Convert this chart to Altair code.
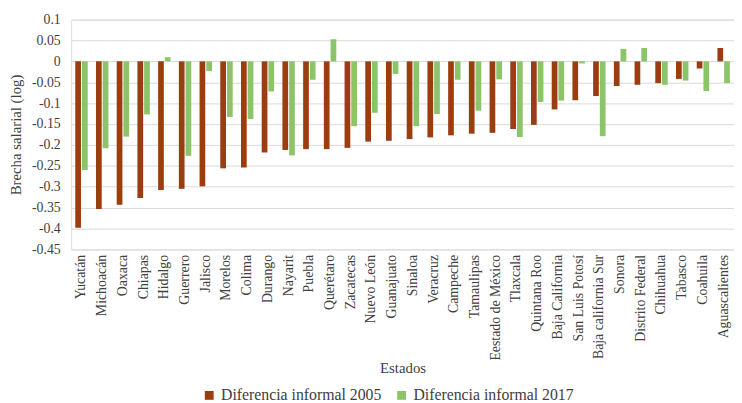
import altair as alt
import pandas as pd

estados = ["Yucatán", "Michoacán", "Oaxaca", "Chiapas", "Hidalgo", "Guerrero", "Jalisco",
           "Morelos", "Colima", "Durango", "Nayarit", "Puebla", "Querétaro", "Zacatecas",
           "Nuevo León", "Guanajuato", "Sinaloa", "Veracruz", "Campeche", "Tamaulipas",
           "Eestado de México", "Tlaxcala", "Quintana Roo", "Baja California",
           "San Luis Potosí", "Baja california Sur", "Sonora", "Distrito Federal",
           "Chihuahua", "Tabasco", "Coahuila", "Aguascalientes"]

dif_2005 = [-0.398, -0.353, -0.343, -0.327, -0.308, -0.305, -0.299, -0.256, -0.254, -0.218,
            -0.212, -0.210, -0.210, -0.207, -0.192, -0.190, -0.186, -0.182, -0.177, -0.173,
            -0.171, -0.162, -0.152, -0.115, -0.093, -0.083, -0.059, -0.056, -0.052, -0.042,
            -0.017, 0.032]

dif_2017 = [-0.260, -0.208, -0.180, -0.127, 0.010, -0.226, -0.023, -0.133, -0.138, -0.072,
            -0.225, -0.044, 0.053, -0.155, -0.123, -0.030, -0.155, -0.126, -0.044, -0.118,
            -0.043, -0.181, -0.097, -0.094, -0.005, -0.179, 0.030, 0.032, -0.056, -0.046,
            -0.071, -0.052]

series = ["Diferencia informal 2005", "Diferencia informal 2017"]
colors = ["#9C3D10", "#8CC46A"]
y_ticks = [0.1, 0.05, 0, -0.05, -0.1, -0.15, -0.2, -0.25, -0.3, -0.35, -0.4, -0.45]

rows = []
for e, a, b in zip(estados, dif_2005, dif_2017):
    rows.append({"Estado": e, "Serie": series[0], "Valor": a})
    rows.append({"Estado": e, "Serie": series[1], "Valor": b})
df = pd.DataFrame(rows)

FONT = "Liberation Serif"

chart = alt.Chart(df).mark_bar(stroke=None).encode(
    x=alt.X("Estado:N", sort=estados,
            scale=alt.Scale(paddingInner=0.4, paddingOuter=0.2),
            axis=alt.Axis(title="Estados", labelAngle=-90, labelAlign="right",
                          labelBaseline="middle", labelPadding=5, ticks=False,
                          domain=False, grid=False, labelFont=FONT, labelFontSize=14,
                          labelColor="#404040", titleFont=FONT, titleFontSize=15,
                          titleFontWeight="normal", titleColor="#404040",
                          titlePadding=0)),
    xOffset=alt.XOffset("Serie:N", sort=series,
                        scale=alt.Scale(paddingInner=0.15)),
    y=alt.Y("Valor:Q",
            scale=alt.Scale(domain=[-0.45, 0.1], nice=False, zero=False),
            axis=alt.Axis(title="Brecha salarial (log)", values=y_ticks,
                          labelExpr="'' + datum.value", ticks=False, domain=False,
                          grid=True, gridColor="#D9D9D9", gridWidth=1,
                          labelFont=FONT, labelFontSize=14, labelColor="#404040",
                          labelPadding=11,
                          titleFont=FONT, titleFontSize=15, titleFontWeight="normal",
                          titleColor="#404040", titlePadding=8)),
    color=alt.Color("Serie:N", sort=series,
                    scale=alt.Scale(domain=series, range=colors),
                    legend=alt.Legend(title=None, orient="none", direction="horizontal",
                                      legendX=132, legendY=373,
                                      symbolType="square", symbolSize=80,
                                      symbolStrokeWidth=0, labelFont=FONT,
                                      labelFontSize=16, labelColor="#404040",
                                      columnPadding=12, labelLimit=300)),
).properties(
    width=672, height=233,
    padding={"left": 0, "top": 2, "right": 0, "bottom": 0},
).configure_view(stroke=None).configure(background="white")

chart.save("out.html", embed_options={"renderer": "svg", "actions": False})
